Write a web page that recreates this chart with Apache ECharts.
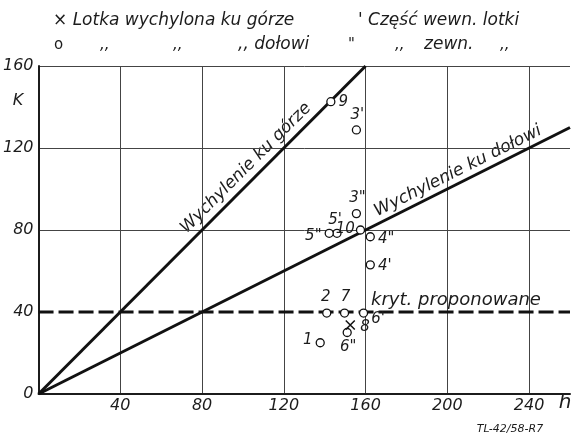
<!DOCTYPE html>
<html><head><meta charset="utf-8">
<script src="https://cdn.jsdelivr.net/npm/echarts@6/dist/echarts.min.js"></script>
<style>html,body{margin:0;padding:0;background:#fff}#c{width:571px;height:437px}</style>
</head><body><div id="c"></div>
<script>
// ---- data ----
var xTicks = [0, 40, 80, 120, 160, 200, 240];
var yTicks = [0, 40, 80, 120, 160];
var upLine = [[0, 0], [160, 160]];      // Wychylenie ku górze (K = h)
var downLine = [[0, 0], [260, 130]];    // Wychylenie ku dołowi (K = h/2)
var critK = 40;                          // kryt. proponowane
var circleNames = ['9', "3'", '3"', "5'", '5"', '10', '4"', "4'", '2', '7', "6'", '6"', '1'];
var circleH = [143, 155.5, 155.5, 146, 142.2, 157.5, 162.3, 162.3, 141, 149.7, 159, 151, 137.8];
var circleK = [142.6, 128.8, 88, 78.4, 78.4, 80, 76.7, 63, 39.5, 39.5, 39.5, 30, 25];
var crossNames = ['8'];
var crossH = [152.5];
var crossK = [33.7];

// ---- label placement (style only) ----
var labelPos = {
  '9': ['right', [0, 0]], "3'": ['top', [1, 0]], '3"': ['top', [1, 0]], "5'": ['top', [-2, 2]],
  '5"': ['left', [0, 3]], '10': ['left', [2, -1]], '4"': ['right', [0, 2]], "4'": ['right', [0, 1]],
  '2': ['top', [-1, -1]], '7': ['top', [1, -1]], "6'": ['right', [0, 6]], '6"': ['bottom', [1, -1]],
  '1': ['left', [0, -3]], '8': ['right', [0, 2]]
};
var FONT = '"DejaVu Sans", sans-serif';
var INK = '#1c1c1c';

function pts(names, hs, ks) {
  return names.map(function (n, i) {
    var p = labelPos[n];
    return { name: n, value: [hs[i], ks[i]], label: { position: p[0], offset: p[1] } };
  });
}

var chart = echarts.init(document.getElementById('c'));
var labelStyle = { show: true, formatter: '{b}', fontFamily: FONT, fontStyle: 'italic', fontSize: 15, color: INK, opacity: 1, distance: 3 };

chart.setOption({
  backgroundColor: '#fff',
  animation: false,
  grid: { left: 38, right: 1, top: 66, bottom: 43, containLabel: false },
  xAxis: {
    type: 'value', min: 0, max: 260, interval: 40,
    axisLine: { show: true, lineStyle: { color: INK, width: 2 } },
    axisTick: { show: false },
    axisLabel: { showMinLabel: false, showMaxLabel: false, margin: 4, fontFamily: FONT, fontStyle: 'italic', fontSize: 16, color: INK },
    splitLine: { show: true, showMaxLine: false, lineStyle: { color: '#444', width: 1 } }
  },
  yAxis: {
    type: 'value', min: 0, max: 160, interval: 40,
    axisLine: { show: true, onZero: false, lineStyle: { color: INK, width: 2 } },
    axisTick: { show: false },
    axisLabel: { margin: 5, fontFamily: FONT, fontStyle: 'italic', fontSize: 16, color: INK },
    splitLine: { show: true, lineStyle: { color: ['#444', 'rgba(0,0,0,0)', '#444', '#444', '#444'], width: 1 } }
  },
  series: [
    { type: 'line', data: upLine, symbol: 'none', lineStyle: { color: '#111', width: 3 }, z: 3 },
    { type: 'line', data: downLine, symbol: 'none', lineStyle: { color: '#111', width: 3 }, z: 3 },
    { type: 'line', data: [[0, critK], [260, critK]], symbol: 'none', lineStyle: { color: '#111', width: 3, type: [15, 5] }, z: 3 },
    {
      type: 'scatter', data: pts(circleNames, circleH, circleK), symbol: 'circle', symbolSize: 8,
      itemStyle: { color: '#fff', borderColor: '#111', borderWidth: 1.3, opacity: 1 }, label: labelStyle, z: 5
    },
    {
      type: 'scatter', data: pts(crossNames, crossH, crossK), symbol: 'path://M0,0L10,10M10,0L0,10', symbolSize: 9,
      itemStyle: { color: 'none', borderColor: '#111', borderWidth: 1.5, opacity: 1 }, label: labelStyle, z: 5
    }
  ],
  graphic: [
    { type: 'text', x: 246, y: 168, rotation: Math.PI / 4, style: { text: 'Wychylenie ku górze', font: 'italic 17px ' + FONT, fill: INK, textAlign: 'center', textVerticalAlign: 'middle' } },
    { type: 'text', x: 458, y: 171, rotation: Math.atan(0.5), style: { text: 'Wychylenie ku dołowi', font: 'italic 17px ' + FONT, fill: INK, textAlign: 'center', textVerticalAlign: 'middle' } },
    { type: 'text', x: 371, y: 300, style: { text: 'kryt. proponowane', font: 'italic 18px ' + FONT, fill: INK, textAlign: 'left', textVerticalAlign: 'middle' } },
    { type: 'text', x: 18, y: 101, style: { text: 'K', font: 'italic 16px ' + FONT, fill: INK, textAlign: 'center', textVerticalAlign: 'middle' } },
    { type: 'text', x: 565, y: 403, style: { text: 'h', font: 'italic 20px ' + FONT, fill: INK, textAlign: 'center', textVerticalAlign: 'middle' } },
    { type: 'text', x: 510, y: 429, style: { text: 'TL-42/58-R7', font: 'italic 11px ' + FONT, fill: INK, textAlign: 'center', textVerticalAlign: 'middle' } },
    { type: 'text', x: 53, y: 21, style: { text: '× Lotka wychylona ku górze', font: 'italic 17px ' + FONT, fill: INK, textAlign: 'left', textVerticalAlign: 'middle' } },
    { type: 'text', x: 358, y: 21, style: { text: "' Część wewn. lotki", font: 'italic 17px ' + FONT, fill: INK, textAlign: 'left', textVerticalAlign: 'middle' } },
    { type: 'text', x: 54, y: 45, style: { text: 'o', font: '15px ' + FONT, fill: INK, textAlign: 'left', textVerticalAlign: 'middle' } },
    { type: 'text', x: 100, y: 45, style: { text: ',,', font: 'italic 15px ' + FONT, fill: INK, textAlign: 'left', textVerticalAlign: 'middle' } },
    { type: 'text', x: 173, y: 45, style: { text: ',,', font: 'italic 15px ' + FONT, fill: INK, textAlign: 'left', textVerticalAlign: 'middle' } },
    { type: 'text', x: 238, y: 45, style: { text: ',, dołowi', font: 'italic 17px ' + FONT, fill: INK, textAlign: 'left', textVerticalAlign: 'middle' } },
    { type: 'text', x: 348, y: 45, style: { text: '"', font: 'italic 15px ' + FONT, fill: INK, textAlign: 'left', textVerticalAlign: 'middle' } },
    { type: 'text', x: 395, y: 45, style: { text: ',,', font: 'italic 15px ' + FONT, fill: INK, textAlign: 'left', textVerticalAlign: 'middle' } },
    { type: 'text', x: 424, y: 45, style: { text: 'zewn.', font: 'italic 17px ' + FONT, fill: INK, textAlign: 'left', textVerticalAlign: 'middle' } },
    { type: 'text', x: 500, y: 45, style: { text: ',,', font: 'italic 15px ' + FONT, fill: INK, textAlign: 'left', textVerticalAlign: 'middle' } }
  ]
});
</script>
</body></html>
